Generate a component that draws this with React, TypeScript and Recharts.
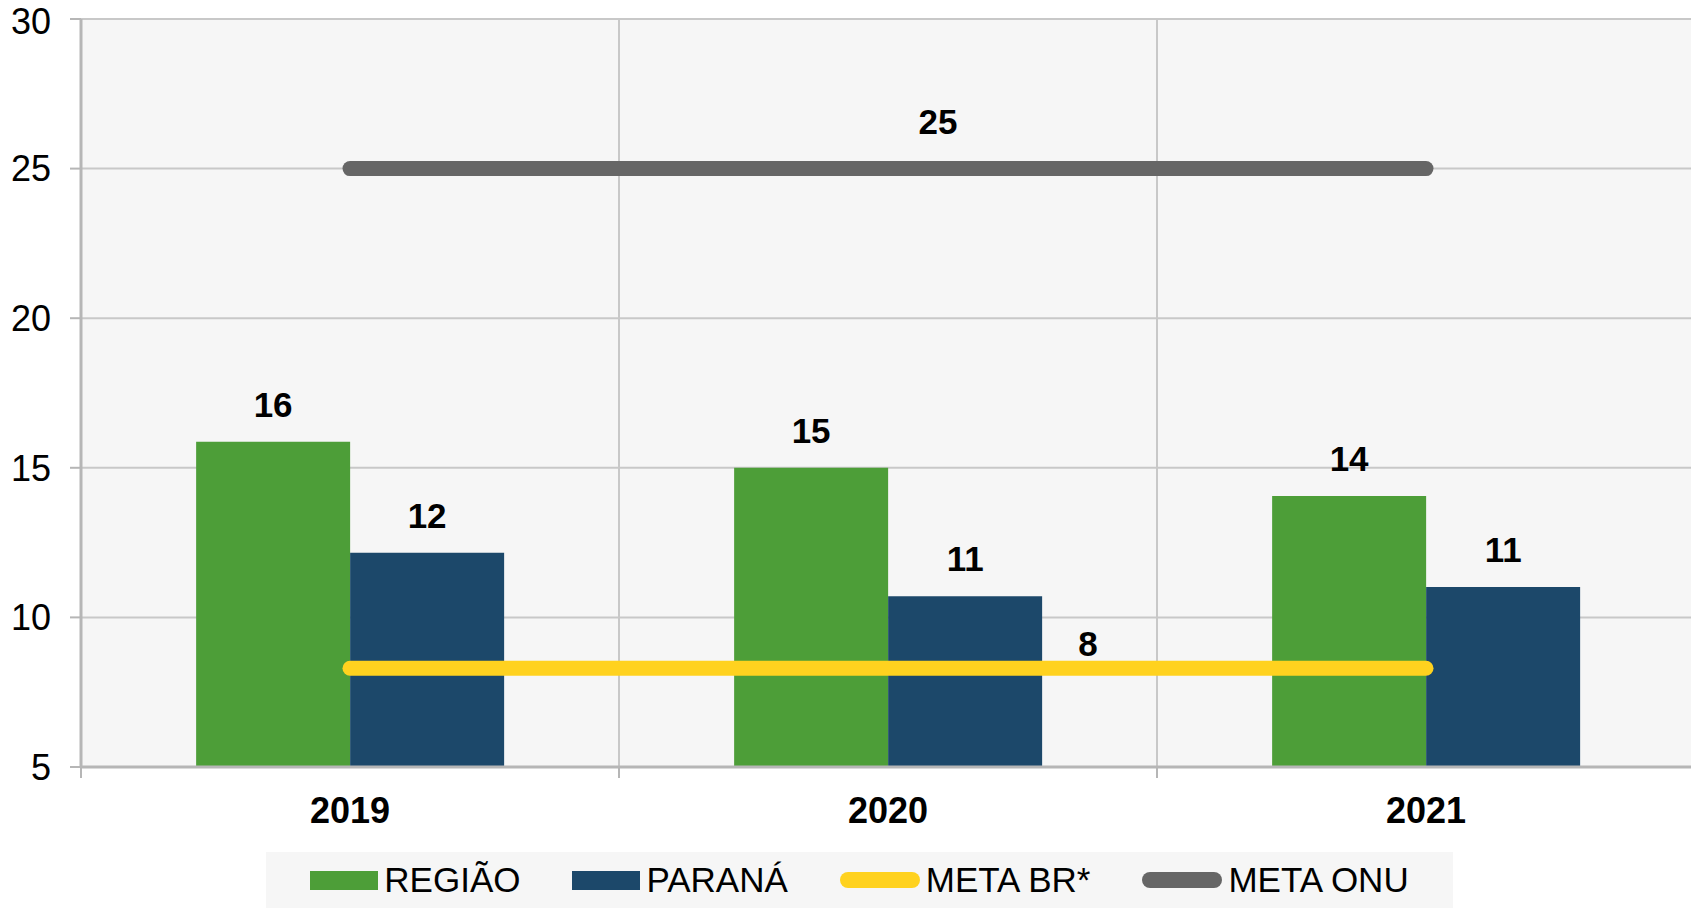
import { Bar, Line, XAxis, YAxis, CartesianGrid, Legend, LabelList, ComposedChart } from "recharts";

const YEARS = ["2019", "2020", "2021"];
const REGIAO = [15.87, 15.0, 14.06];
const PARANA = [12.16, 10.71, 11.02];
const META_BR = [8.3, 8.3, 8.3];
const META_ONU = [25, 25, 25];
const Y_TICKS = [5, 10, 15, 20, 25, 30];

const FONT = "'Liberation Sans', Arial, sans-serif";
const GREEN = "#4d9e38";
const NAVY = "#1c486a";
const YELLOW = "#ffd21f";
const GRAY = "#666666";
const AXIS = "#b6b6b6";
const GRID = "#c8c8c8";

const LEGEND = [
  { label: "REGIÃO", color: GREEN, kind: "bar" },
  { label: "PARANÁ", color: NAVY, kind: "bar" },
  { label: "META BR*", color: YELLOW, kind: "line" },
  { label: "META ONU", color: GRAY, kind: "line" },
];

const data = YEARS.map((year, i) => ({
  year,
  regiao: REGIAO[i],
  parana: PARANA[i],
  metaBr: META_BR[i],
  metaOnu: META_ONU[i],
}));

// Excel puts one label per target line, shifted off the point
function lineLabel(dx: number, dy: number) {
  return (props: any) => {
    if (props.index !== 1) return null;
    return (
      <text x={props.x + dx} y={props.y + dy} textAnchor="middle" fontSize={35} fontWeight={700} fill="#000" fontFamily={FONT}>
        {Math.round(props.value)}
      </text>
    );
  };
}

function YearTick({ x, y, payload }: any) {
  const half = payload.offset ?? 0;
  return (
    <g>
      <line x1={x - half} x2={x - half} y1={y - 11} y2={y} stroke={AXIS} strokeWidth={2} />
      <text x={x} y={y + 45} textAnchor="middle" fontSize={36} fontWeight={700} fill="#000" fontFamily={FONT}>
        {payload.value}
      </text>
    </g>
  );
}

function LegendBox() {
  return (
    <div
      style={{
        background: "#f6f6f6",
        height: 56,
        display: "flex",
        alignItems: "center",
        justifyContent: "center",
        gap: 52,
        fontFamily: FONT,
        fontSize: 35,
        color: "#000",
      }}
    >
      {LEGEND.map((item) => (
        <div key={item.label} style={{ display: "flex", alignItems: "center", gap: 6 }}>
          {item.kind === "bar" ? (
            <span style={{ display: "inline-block", width: 68, height: 19, background: item.color }} />
          ) : (
            <span style={{ display: "inline-block", width: 80, height: 16, borderRadius: 8, background: item.color }} />
          )}
          <span>{item.label}</span>
        </div>
      ))}
    </div>
  );
}

export default function App() {
  return (
    <div style={{ position: "absolute", left: 0, top: 0, width: 1691, height: 908, background: "#fff" }}>
      <ComposedChart
        width={1691}
        height={908}
        data={data}
        margin={{ top: 19, right: -4, bottom: 0, left: 0 }}
        barCategoryGap="21.4%"
        barGap={0}
      >
        <CartesianGrid
          fill="#f6f6f6"
          stroke={GRID}
          strokeWidth={2}
          verticalCoordinatesGenerator={({ offset }: any) =>
            YEARS.slice(1).map((_, i) => offset.left + ((i + 1) * offset.width) / YEARS.length)
          }
        />
        <XAxis
          dataKey="year"
          height={85}
          tickSize={11}
          tickMargin={0}
          tickLine={false}
          axisLine={{ stroke: AXIS, strokeWidth: 3 }}
          tick={<YearTick />}
          interval={0}
        />
        <YAxis
          type="number"
          domain={[5, 30]}
          ticks={Y_TICKS}
          width={81}
          tickSize={11}
          tickMargin={19}
          tickLine={{ stroke: AXIS, strokeWidth: 2 }}
          axisLine={{ stroke: AXIS, strokeWidth: 3 }}
          tick={{ fontSize: 36, fill: "#000", fontFamily: FONT }}
          allowDataOverflow
        />
        <Legend
          verticalAlign="bottom"
          content={<LegendBox />}
          wrapperStyle={{ left: 266, width: 1187, bottom: 0, height: 56 }}
        />
        <Bar dataKey="regiao" fill={GREEN} isAnimationActive={false}>
          <LabelList
            dataKey="regiao"
            position="top"
            offset={25}
            formatter={(v: any) => Math.round(Number(v))}
            style={{ fontSize: 35, fontWeight: 700, fill: "#000", fontFamily: FONT }}
          />
        </Bar>
        <Bar dataKey="parana" fill={NAVY} isAnimationActive={false}>
          <LabelList
            dataKey="parana"
            position="top"
            offset={25}
            formatter={(v: any) => Math.round(Number(v))}
            style={{ fontSize: 35, fontWeight: 700, fill: "#000", fontFamily: FONT }}
          />
        </Bar>
        <Line
          dataKey="metaBr"
          stroke={YELLOW}
          strokeWidth={15}
          strokeLinecap="round"
          dot={false}
          activeDot={false}
          isAnimationActive={false}
          label={lineLabel(200, -12)}
        />
        <Line
          dataKey="metaOnu"
          stroke={GRAY}
          strokeWidth={15}
          strokeLinecap="round"
          dot={false}
          activeDot={false}
          isAnimationActive={false}
          label={lineLabel(50, -35)}
        />
      </ComposedChart>
    </div>
  );
}
